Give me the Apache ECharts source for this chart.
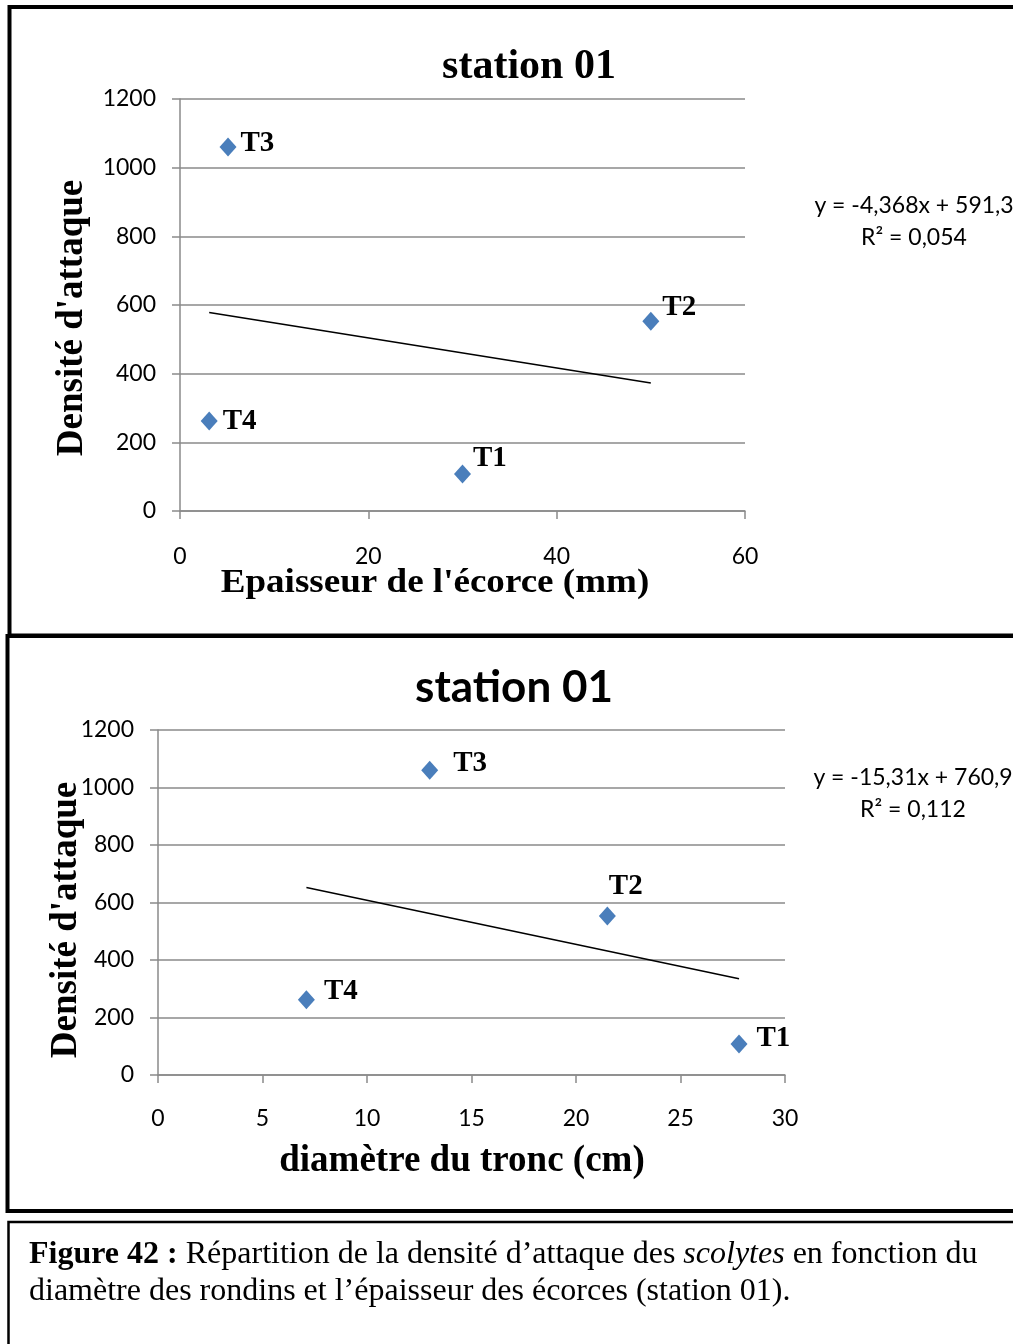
<!DOCTYPE html>
<html><head><meta charset="utf-8">
<script src="https://cdn.jsdelivr.net/npm/echarts@6/dist/echarts.min.js"></script>
<style>html,body{margin:0;padding:0;background:#fff}#c{width:1013px;height:1344px}</style>
</head><body><div id="c"></div>
<script>
// ---- data ----
const pointNames = ['T1', 'T2', 'T3', 'T4'];
const density = [108, 553, 1060, 262];          // Densité d'attaque
const barkThickness = [30.0, 50.0, 5.1, 3.1];   // Epaisseur de l'écorce (mm)
const trunkDiameter = [27.8, 21.5, 13.0, 7.1];  // diamètre du tronc (cm)
const trend1 = [[3.1, 578], [50.0, 373]];       // linear trendline, chart 1
const trend2 = [[7.1, 652], [27.8, 335]];       // linear trendline, chart 2
const yRange = [0, 1200, 200];
const x1Range = [0, 60, 20];
const x2Range = [0, 30, 5];
const chartTitle = 'station 01';
const yTitle = "Densité d'attaque";
const x1Title = "Epaisseur de l'écorce (mm)";
const x2Title = 'diamètre du tronc (cm)';
const eq1 = ['y = -4,368x + 591,3', 'R² = 0,054'];
const eq2 = ['y = -15,31x + 760,9', 'R² = 0,112'];

// ---- layout / style ----
const labelOffsets1 = {T1: [-3, -15], T2: [-2, -14], T3: [-1, -4], T4: [0, 0]};
const labelOffsets2 = {T1: [4, -5], T2: [-12, -29], T3: [10, -7], T4: [4, -8]};
const GRID = '#8a8a8a';
const BLUE = '#4A7EBB';
const SERIF = '"Liberation Serif", "Times New Roman", serif';
const SANS = 'Lato, "Open Sans", sans-serif';

function yAxisCfg(gridIndex) {
  return {
    type: 'value', gridIndex, min: yRange[0], max: yRange[1], interval: yRange[2],
    axisLine: {show: true, lineStyle: {color: GRID, width: 1.5}},
    axisTick: {show: true, length: 8, lineStyle: {color: GRID, width: 1.5}},
    splitLine: {show: true, lineStyle: {color: GRID, width: 1.5}},
    axisLabel: {margin: 24, color: '#000', fontSize: 23, fontFamily: SANS,
      formatter: v => String(v)}
  };
}
function xAxisCfg(gridIndex, r, margin) {
  return {
    type: 'value', gridIndex, min: r[0], max: r[1], interval: r[2],
    axisLine: {show: true, onZero: false, lineStyle: {color: GRID, width: 1.5}},
    axisTick: {show: true, length: 8, lineStyle: {color: GRID, width: 1.5}},
    splitLine: {show: false},
    axisLabel: {margin, color: '#000', fontSize: 23, fontFamily: SANS,
      formatter: v => String(v)}
  };
}
function scatterData(xs, offsets) {
  return pointNames.map((n, i) => ({
    name: n, value: [xs[i], density[i]], label: {offset: offsets[n]}
  }));
}
function scatterSeries(idx, xs, offsets) {
  return {
    type: 'scatter', xAxisIndex: idx, yAxisIndex: idx,
    symbol: 'diamond', symbolSize: [17, 19],
    itemStyle: {color: BLUE, opacity: 1},
    label: {show: true, position: 'right', distance: 5, formatter: '{b}',
      color: '#000', fontWeight: 'bold', fontSize: 29, fontFamily: SERIF},
    data: scatterData(xs, offsets), z: 3
  };
}
function trendSeries(idx, d) {
  return {
    type: 'line', xAxisIndex: idx, yAxisIndex: idx, data: d,
    symbol: 'none', silent: true, lineStyle: {color: '#000', width: 1.5}, z: 2
  };
}
function txt(text, x, y, font, extra) {
  return Object.assign({type: 'text', x, y, silent: true,
    style: {text, font, fill: '#000', textAlign: 'center', textVerticalAlign: 'middle'}}, extra || {});
}

const chart = echarts.init(document.getElementById('c'), null, {renderer: 'canvas'});
chart.setOption({
  animation: false,
  backgroundColor: '#fff',
  grid: [
    {left: 180, top: 99, width: 565, height: 412},
    {left: 158, top: 730, width: 627, height: 345}
  ],
  xAxis: [xAxisCfg(0, x1Range, 34), xAxisCfg(1, x2Range, 32)],
  yAxis: [yAxisCfg(0), yAxisCfg(1)],
  series: [
    trendSeries(0, trend1), scatterSeries(0, barkThickness, labelOffsets1),
    trendSeries(1, trend2), scatterSeries(1, trunkDiameter, labelOffsets2)
  ],
  graphic: [
    // frames
    {type: 'rect', silent: true, shape: {x: 9.5, y: 7, width: 1100, height: 628.5},
      style: {fill: 'none', stroke: '#000', lineWidth: 4}},
    {type: 'rect', silent: true, shape: {x: 7.5, y: 636, width: 1100, height: 575},
      style: {fill: 'none', stroke: '#000', lineWidth: 4}},
    {type: 'rect', silent: true, shape: {x: 8.5, y: 1222, width: 1100, height: 200},
      style: {fill: 'none', stroke: '#000', lineWidth: 2.5}},
    // chart 1 texts
    txt(chartTitle, 529, 67, 'bold 42px ' + SERIF),
    txt(yTitle, 72, 318, 'bold 37px ' + SERIF, {rotation: Math.PI / 2}),
    txt(x1Title, 435, 583, 'bold 34px ' + SERIF, {scaleX: 1.09}),
    txt(eq1[0], 914, 206, '23px ' + SANS),
    txt(eq1[1], 914, 238, '23px ' + SANS),
    // chart 2 texts
    txt(chartTitle, 514, 688, 'bold 44px ' + SANS),
    txt(yTitle, 66, 920, 'bold 37px ' + SERIF, {rotation: Math.PI / 2}),
    txt(x2Title, 462, 1161, 'bold 37px ' + SERIF),
    txt(eq2[0], 913, 778, '23px ' + SANS),
    txt(eq2[1], 913, 810, '23px ' + SANS),
    // caption
    {type: 'text', x: 29, y: 1236, silent: true,
      style: {
        text: '{b|Figure 42 :} Répartition de la densité d’attaque des {i|scolytes} en fonction du\ndiamètre des rondins et l’épaisseur des écorces (station 01).',
        fontFamily: SERIF, fontSize: 32, lineHeight: 37, fill: '#000',
        textAlign: 'left', textVerticalAlign: 'top',
        rich: {
          b: {fontFamily: SERIF, fontSize: 32, fontWeight: 'bold', lineHeight: 37},
          i: {fontFamily: SERIF, fontSize: 32, fontStyle: 'italic', lineHeight: 37}
        }
      }}
  ]
});
</script></body></html>
